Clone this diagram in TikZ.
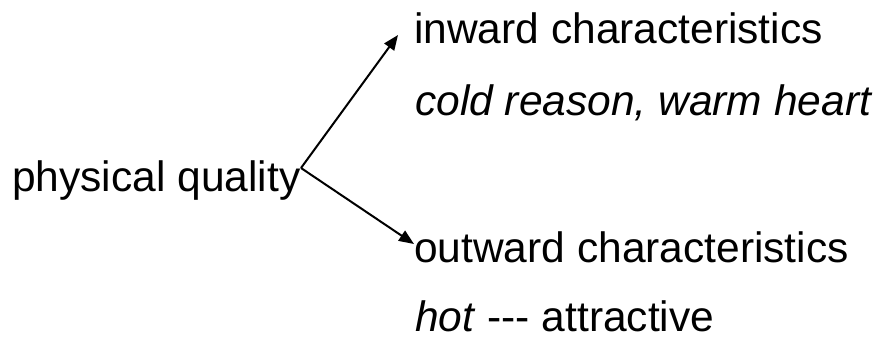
\documentclass[tikz,border=0pt]{standalone}
\usepackage{fontspec}
\setmainfont{Liberation Sans}
\usetikzlibrary{arrows.meta}
\begin{document}
\begin{tikzpicture}[x=1pt,y=-1pt,
  lbl/.style={inner sep=0pt,anchor=base west,font=\fontsize{42.5}{50}\selectfont},
  conn/.style={line width=2pt,-{Triangle[length=15pt,width=12pt]}}]
\useasboundingbox (0,0) rectangle (878,340);
\node[lbl] (pq) at (12,191) {physical quality};
\node[lbl] (in) at (414,43) {inward characteristics};
\node[lbl] (cr) at (415,115) {\itshape cold reason, warm heart};
\node[lbl] (out) at (414,262) {outward characteristics};
\node[lbl] (hot) at (415,331) {\textit{hot} -{}-{}- attractive};
\coordinate (s) at (301,168);
\coordinate (tu) at (398,35);
\coordinate (tl) at (414,244);
\draw[conn] (s) -- (tu);
\draw[conn] (s) -- (tl);
\end{tikzpicture}
\end{document}
